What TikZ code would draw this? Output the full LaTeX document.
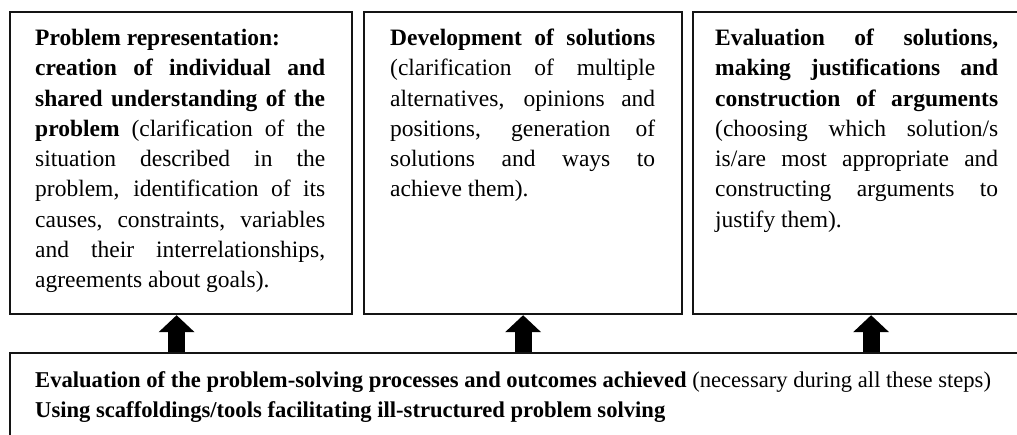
\documentclass[tikz,border=0pt]{standalone}
\usepackage{fontspec}
\setmainfont{Liberation Serif}
\usetikzlibrary{arrows.meta,calc}

\definecolor{edge}{HTML}{141414}

\tikzset{
  stagebox/.style={draw=edge, line width=2.2pt, rectangle, inner sep=0pt,
    anchor=north west},
  bodytext/.style={inner sep=0pt, anchor=base west, text=black,
    font=\fontsize{23.5}{30.3}\selectfont},
  blockarrow/.style={line width=17pt, draw=black,
    -{Triangle[width=35pt,length=17pt]}}
}

\begin{document}
\begin{tikzpicture}[x=1pt, y=-1pt]
\useasboundingbox (0,0) rectangle (1017,435);
\clip (0,0) rectangle (1017,435);

% the three stage boxes and the supporting box below
\node[stagebox, minimum width=342pt, minimum height=302pt] (b1) at (9,11) {};
\node[stagebox, minimum width=318pt, minimum height=302pt] (b2) at (363,11) {};
\node[stagebox, minimum width=356pt, minimum height=302pt] (b3) at (692,11) {};
\node[stagebox, minimum width=1060pt, minimum height=150pt] (bot) at (9,352) {};

% texts
\node[bodytext] (t1) at (35,45.5) {\parbox[t]{290pt}{%
\textbf{Problem representation:}\newline
\textbf{creation of individual and}\linebreak
\textbf{shared understanding of the}\linebreak
\textbf{problem} (clarification of the\linebreak
situation described in the\linebreak
problem, identification of its\linebreak
causes, constraints, variables\linebreak
and their interrelationships,\linebreak
agreements about goals).}};

\node[bodytext] (t2) at (390,45.5) {\parbox[t]{265pt}{%
\textbf{Development of solutions}\linebreak
(clarification of multiple\linebreak
alternatives, opinions and\linebreak
positions, generation of\linebreak
solutions and ways to\linebreak
achieve them).}};

\node[bodytext] (t3) at (715,45.5) {\parbox[t]{283pt}{%
\textbf{Evaluation of solutions,}\linebreak
\textbf{making justifications and}\linebreak
\textbf{construction of arguments}\linebreak
(choosing which solution/s\linebreak
is/are most appropriate and\linebreak
constructing arguments to\linebreak
justify them).}};

\node[bodytext, font=\fontsize{22.6}{29}\selectfont] (t4) at (35,388) {\parbox[t]{980pt}{\raggedright
\textbf{Evaluation of the problem-solving processes and outcomes achieved} (necessary during all these steps)\\
\textbf{Using scaffoldings/tools facilitating ill-structured problem solving}}};

% block arrows from the supporting box up to each stage
\draw[blockarrow] ($(b1.south |- bot.north)+(-4.5,0)$) -- ($(b1.south)+(-4.5,0)$);
\draw[blockarrow] (b2.south |- bot.north) -- (b2.south);
\draw[blockarrow] (b3.south |- bot.north) -- (b3.south);
\end{tikzpicture}
\end{document}
